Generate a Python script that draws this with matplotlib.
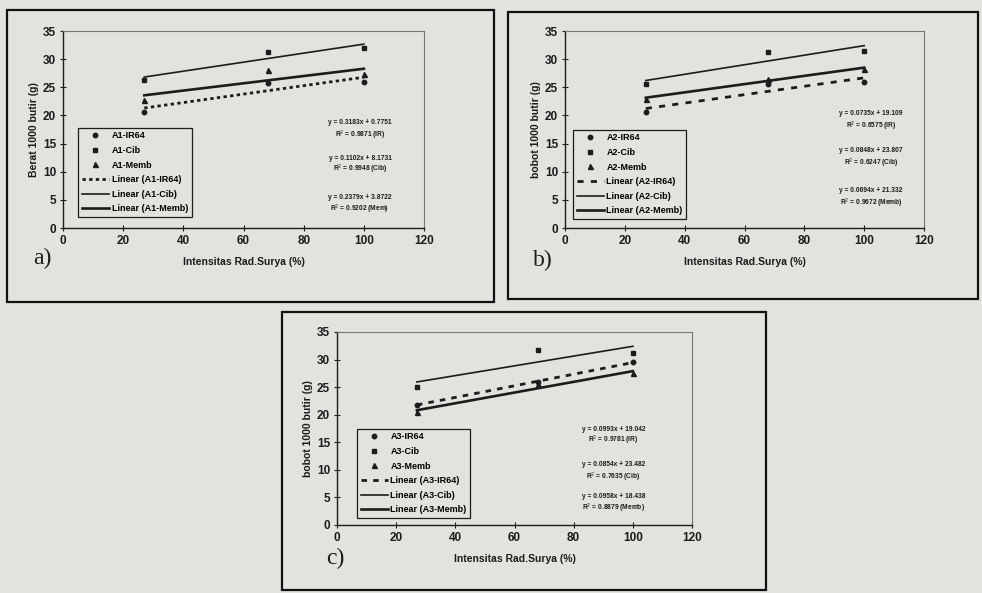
import matplotlib.pyplot as plt
from matplotlib.patches import Rectangle
import numpy as np

# intensitas radiasi surya (%)
x_rad = [27, 68, 100]

# panel a) - A1
a_ir64 = [20.7, 25.8, 26.0]
a_cib = [26.3, 31.3, 32.0]
a_memb = [22.8, 28.0, 27.3]
a_eq = ["y = 0.3183x + 0.7751", "R$^2$ = 0.9871 (IR)",
        "y = 0.1102x + 8.1731", "R$^2$ = 0.9948 (Cib)",
        "y = 0.2379x + 3.8722", "R$^2$ = 0.9202 (Mem)"]

# panel b) - A2
b_ir64 = [20.7, 25.5, 26.0]
b_cib = [25.5, 31.3, 31.5]
b_memb = [23.0, 26.5, 28.3]
b_eq = ["y = 0.0735x + 19.109", "R$^2$ = 0.6575 (IR)",
        "y = 0.0848x + 23.807", "R$^2$ = 0.6247 (Cib)",
        "y = 0.0694x + 21.332", "R$^2$ = 0.9672 (Memb)"]

# panel c) - A3
c_ir64 = [21.8, 26.0, 29.5]
c_cib = [25.0, 31.7, 31.2]
c_memb = [20.5, 25.5, 27.5]
c_eq = ["y = 0.0993x + 19.042", "R$^2$ = 0.9781 (IR)",
        "y = 0.0854x + 23.482", "R$^2$ = 0.7635 (Cib)",
        "y = 0.0958x + 18.438", "R$^2$ = 0.8879 (Memb)"]

y_ticks = [0, 5, 10, 15, 20, 25, 30, 35]
x_ticks = [0, 20, 40, 60, 80, 100, 120]

PAGE = '#e4e2de'
INK = '#1c1c1c'

plt.rcParams['font.family'] = ['Liberation Sans', 'DejaVu Sans']

fig = plt.figure(figsize=(9.82, 5.93), dpi=100, facecolor=PAGE)


def trend(ax, y, **kw):
    m, b = np.polyfit(x_rad, y, 1)
    xs = np.array([x_rad[0], x_rad[-1]])
    ax.plot(xs, m * xs + b, color=INK, **kw)


def panel(rect, tag, ylabel, ir, cib, memb, eqs, eq_x, eq_y, leg_pos, dash):
    ax = fig.add_axes(rect)
    ax.set_facecolor(PAGE)
    ax.plot(x_rad, ir, 'o', ms=3.2, color=INK, label=f'{tag}-IR64')
    ax.plot(x_rad, cib, 's', ms=2.8, color=INK, label=f'{tag}-Cib')
    ax.plot(x_rad, memb, '^', ms=3.6, color=INK, label=f'{tag}-Memb')
    trend(ax, ir, lw=2.0, linestyle=dash, label=f'Linear ({tag}-IR64)')
    trend(ax, cib, lw=1.2, label=f'Linear ({tag}-Cib)')
    trend(ax, memb, lw=1.9, label=f'Linear ({tag}-Memb)')

    ax.set_xlim(0, 120)
    ax.set_ylim(0, 35)
    ax.set_xticks(x_ticks)
    ax.set_yticks(y_ticks)
    ax.tick_params(direction='inout', length=4, width=0.8, labelsize=8.5,
                   colors=INK, pad=3)
    for lbl in ax.get_xticklabels() + ax.get_yticklabels():
        lbl.set_fontweight('bold')
    for s in ['top', 'right']:
        ax.spines[s].set_color('#777777')
        ax.spines[s].set_linewidth(0.8)
    for s in ['left', 'bottom']:
        ax.spines[s].set_color(INK)
        ax.spines[s].set_linewidth(1.0)
    ax.set_xlabel('Intensitas Rad.Surya (%)', fontsize=7.5, fontweight='bold',
                  color=INK, labelpad=7)
    ax.set_ylabel(ylabel, fontsize=7.5, fontweight='bold', color=INK, labelpad=3)

    for i, t in enumerate(eqs):
        ax.text(eq_x, eq_y[i], t, fontsize=4.8, fontweight='bold', color=INK,
                ha='center', va='center')

    leg = ax.legend(loc='lower left', bbox_to_anchor=leg_pos,
                    prop={'weight': 'bold', 'size': 6.5}, frameon=True,
                    fancybox=False, edgecolor=INK, facecolor=PAGE, framealpha=1,
                    handlelength=3.0, labelspacing=0.62, borderpad=0.4,
                    handletextpad=0.3, borderaxespad=0)
    leg.get_frame().set_linewidth(0.9)
    return ax


panel([0.0642, 0.6155, 0.3676, 0.3322], 'A1', 'Berat 1000 butir (g)',
      a_ir64, a_cib, a_memb, a_eq, 98.7,
      [18.7, 16.5, 12.4, 10.4, 5.5, 3.4], (0.042, 0.056), (0, (1.2, 1.2)))
panel([0.5754, 0.6155, 0.3656, 0.3322], 'A2', 'bobot 1000 butir (g)',
      b_ir64, b_cib, b_memb, b_eq, 102.3,
      [20.4, 18.1, 13.7, 11.5, 6.6, 4.4], (0.022, 0.046), (0, (2.2, 2.6)))
panel([0.3432, 0.1147, 0.3615, 0.3255], 'A3', 'bobot 1000 butir (g)',
      c_ir64, c_cib, c_memb, c_eq, 93.4,
      [17.4, 15.4, 10.9, 8.6, 5.1, 3.1], (0.056, 0.036), (0, (2.0, 2.2)))

# frames around each figure panel
for x0, y0, x1, y1 in [(7, 10, 494, 302), (508, 12, 978, 299), (282, 312, 766, 590)]:
    fig.add_artist(Rectangle((x0 / 982, 1 - y1 / 593), (x1 - x0) / 982, (y1 - y0) / 593,
                             transform=fig.transFigure, fill=False,
                             edgecolor='#111111', linewidth=1.6))

for tx, ty, t in [(33, 258, 'a)'), (533, 260, 'b)'), (326, 558, 'c)')]:
    fig.text(tx / 982, 1 - ty / 593, t, fontsize=17, family='Liberation Serif',
             color=INK, va='center', ha='left')

fig.savefig('out.png', dpi=100, facecolor=PAGE)
